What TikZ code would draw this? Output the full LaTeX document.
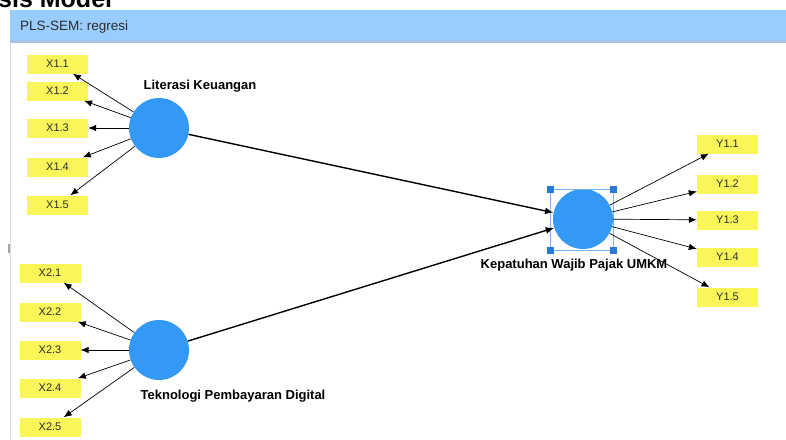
\documentclass[tikz,border=0pt]{standalone}
\usepackage{fontspec}
\setmainfont{Liberation Sans}
\usetikzlibrary{arrows.meta}
\definecolor{hdrblue}{RGB}{153,204,255}
\definecolor{hdredge}{RGB}{168,196,226}
\definecolor{lvblue}{RGB}{52,152,245}
\definecolor{indyel}{RGB}{250,246,90}
\definecolor{txtgray}{RGB}{45,45,45}
\definecolor{selblue}{RGB}{40,120,215}
\definecolor{sellight}{RGB}{120,180,240}
\tikzset{
  indbox/.style={fill=indyel, minimum width=61pt, minimum height=19pt, inner sep=0pt,
    font=\fontsize{11}{12}\selectfont, text=txtgray},
  latent/.style={circle, fill=lvblue, minimum size=60pt, inner sep=0pt},
  lvlabel/.style={font=\fontsize{13}{14}\bfseries\selectfont, text=black, inner sep=0pt},
  loading/.style={-{Latex[length=8pt,width=6.5pt]}, line width=0.7pt, black},
  path/.style={-{Latex[length=8.5pt,width=7pt]}, line width=1.4pt, black},
  handle/.style={fill=selblue, minimum size=7pt, inner sep=0pt}
}
\begin{document}
\begin{tikzpicture}[x=1pt,y=-1pt]
\useasboundingbox (0,0) rectangle (786,439);
\clip (0,0) rectangle (786,439);
\fill[white] (0,0) rectangle (786,439);
% heading fragment
\node[anchor=base west, inner sep=0pt, font=\fontsize{25}{28}\bfseries\selectfont] (head) at (-2,7) {sis Model};
% panel
\fill[hdrblue] (10,10) rectangle (786,42);
\fill[hdredge] (10,40) rectangle (786,43);
\draw[gray!30, line width=0.8pt] (10,43) -- (10,439);
\fill[gray!70] (8,244) rectangle (10,253);
\node[anchor=west, inner sep=0pt, font=\fontsize{13.5}{15}\selectfont, text=txtgray] (title) at (20,27) {PLS-SEM: regresi};
% latent variables
\node[latent] (lk) at (159,128) {};
\node[latent] (tpd) at (159,350) {};
\node[latent] (kwp) at (583,219) {};
\node[lvlabel] (lklab) at (200,86) {Literasi Keuangan};
\node[lvlabel] (tpdlab) at (233,396) {Teknologi Pembayaran Digital};
% selection frame
\draw[sellight, line width=0.8pt] (550,189) rectangle (613,250);
\node[handle] (h1) at (550,189) {};
\node[handle] (h2) at (613,189) {};
\node[handle] (h3) at (550,250) {};
\node[handle] (h4) at (613,250) {};
% indicators X1
\node[indbox] (x11) at (57.5,64) {X1.1};
\node[indbox] (x12) at (57.5,91) {X1.2};
\node[indbox] (x13) at (57.5,128) {X1.3};
\node[indbox] (x14) at (57.5,167) {X1.4};
\node[indbox] (x15) at (57.5,205) {X1.5};
% indicators X2
\node[indbox] (x21) at (50,273) {X2.1};
\node[indbox] (x22) at (50,312) {X2.2};
\node[indbox] (x23) at (50,350) {X2.3};
\node[indbox] (x24) at (50,388) {X2.4};
\node[indbox] (x25) at (50,427) {X2.5};
% indicators Y
\node[indbox] (y11) at (727.5,144) {Y1.1};
\node[indbox] (y12) at (727.5,184) {Y1.2};
\node[indbox] (y13) at (727.5,220) {Y1.3};
\node[indbox] (y14) at (727.5,257) {Y1.4};
\node[indbox] (y15) at (727.5,297) {Y1.5};
% loadings
\foreach \i in {x11,x12,x13,x14,x15} \draw[loading] (lk) -- (\i);
\foreach \i in {x21,x22,x23,x24,x25} \draw[loading] (tpd) -- (\i);
\foreach \i in {y11,y12,y13,y14,y15} \draw[loading] (kwp) -- (\i);
% structural paths
\draw[path] (lk) -- (kwp);
\draw[path] (tpd) -- (kwp);
\node[lvlabel] (kwplab) at (574,265) {Kepatuhan Wajib Pajak UMKM};
\end{tikzpicture}
\end{document}
